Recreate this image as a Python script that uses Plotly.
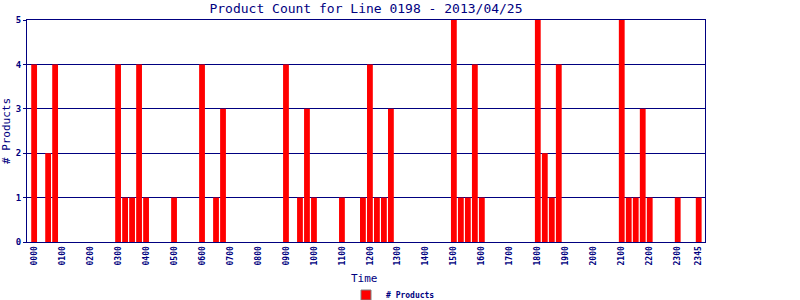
import plotly.graph_objects as go

# 15-minute slots over the day
times = [f"{h:02d}{m:02d}" for h in range(24) for m in (0, 15, 30, 45)]

counts = [
    4, 0, 2, 4,   # 00
    0, 0, 0, 0,   # 01
    0, 0, 0, 0,   # 02
    4, 1, 1, 4,   # 03
    1, 0, 0, 0,   # 04
    1, 0, 0, 0,   # 05
    4, 0, 1, 3,   # 06
    0, 0, 0, 0,   # 07
    0, 0, 0, 0,   # 08
    4, 0, 1, 3,   # 09
    1, 0, 0, 0,   # 10
    1, 0, 0, 1,   # 11
    4, 1, 1, 3,   # 12
    0, 0, 0, 0,   # 13
    0, 0, 0, 0,   # 14
    5, 1, 1, 4,   # 15
    1, 0, 0, 0,   # 16
    0, 0, 0, 0,   # 17
    5, 2, 1, 4,   # 18
    0, 0, 0, 0,   # 19
    0, 0, 0, 0,   # 20
    5, 1, 1, 3,   # 21
    1, 0, 0, 0,   # 22
    1, 0, 0, 1,   # 23
]

tick_labels = ["0000", "0100", "0200", "0300", "0400", "0500", "0600", "0700",
               "0800", "0900", "1000", "1100", "1200", "1300", "1400", "1500",
               "1600", "1700", "1800", "1900", "2000", "2100", "2200", "2300", "2345"]
y_ticks = [0, 1, 2, 3, 4, 5]

NAVY = "#000080"
MONO = "DejaVu Sans Mono"

fig = go.Figure()
fig.add_trace(go.Bar(
    x=times, y=counts, marker=dict(color="#FF0000", line=dict(width=0)),
    showlegend=False, name="# Products",
))
fig.add_trace(go.Scatter(
    x=[None], y=[None], mode="markers", name="# Products",
    marker=dict(symbol="square", size=10, color="#FF0000",
                line=dict(color="#808080", width=1)),
))

fig.update_layout(
    width=800, height=300,
    margin=dict(l=27, r=95, t=20, b=58, autoexpand=False),
    paper_bgcolor="white", plot_bgcolor="white",
    bargap=0.17,
    title=dict(text="Product Count for Line 0198 - 2013/04/25",
               font=dict(family=MONO, size=13, color=NAVY),
               x=366 / 800, xanchor="center", xref="container",
               y=1 - 8.5 / 300, yanchor="middle", yref="container"),
    legend=dict(orientation="h", x=346 / 800, xanchor="left", xref="container",
                y=5 / 300, yanchor="middle", yref="container",
                font=dict(family=MONO, size=8, color=NAVY, weight="bold"),
                bgcolor="rgba(0,0,0,0)"),
    font=dict(family=MONO, color=NAVY),
    annotations=[dict(text="Time", xref="paper", yref="paper",
                      x=(364 - 27) / 678, y=-(278 - 242) / 222,
                      xanchor="center", yanchor="middle", showarrow=False,
                      font=dict(family=MONO, size=11, color=NAVY))],
)
fig.update_xaxes(
    type="category", range=[-1.02, 95.9], automargin=False,
    tickmode="array", tickvals=tick_labels, ticktext=tick_labels,
    tickangle=-90, tickfont=dict(family=MONO, size=8, color=NAVY, weight="bold"),
    showgrid=False, showline=True, mirror=True, linecolor=NAVY, linewidth=1,
    ticks="", ticklen=0,
)
fig.update_yaxes(
    range=[0, 5], tickmode="array", tickvals=y_ticks, automargin=False,
    tickfont=dict(family=MONO, size=9, color=NAVY, weight="bold"),
    showgrid=True, gridcolor=NAVY, gridwidth=1,
    showline=True, mirror=True, linecolor=NAVY, linewidth=1,
    ticks="outside", ticklen=3, tickcolor=NAVY,
    zeroline=False,
    title=dict(text="# Products", font=dict(family=MONO, size=11, color=NAVY), standoff=4),
)

fig.write_html("out.html")
